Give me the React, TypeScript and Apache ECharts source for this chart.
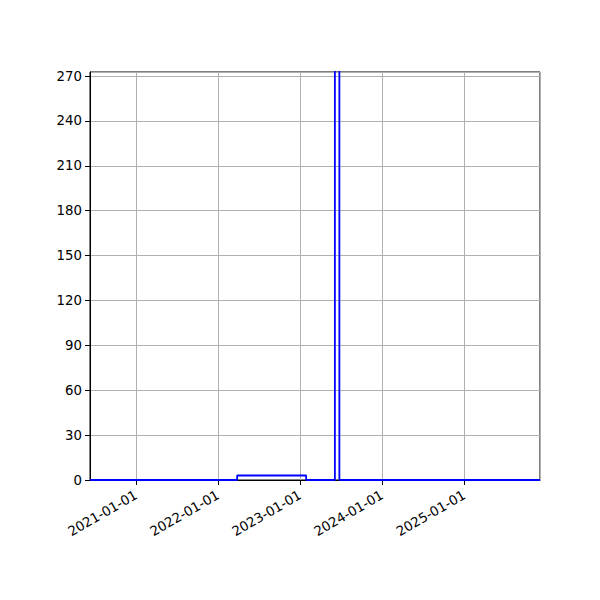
import * as echarts from "echarts";
import { useEffect, useRef } from "react";

// step-post series: each value holds until the next date
const dates = ["2020-06-10", "2022-03-27", "2023-01-28", "2023-06-05", "2023-06-25", "2025-12-04"];
const values = [0, 3, 0, 300, 0, 0];
const xMin = "2020-06-10";
const xMax = "2025-12-04";
const yMax = 272.7;

const YEAR = 365 * 24 * 3600 * 1000;
const FONT = "DejaVu Sans, sans-serif";

function App() {
  const ref = useRef<HTMLDivElement>(null);

  useEffect(() => {
    if (!ref.current) return;
    const chart = echarts.init(ref.current, null, { renderer: "svg" });
    chart.setOption({
      animation: false,
      grid: {
        left: 90,
        right: 60,
        top: 72,
        bottom: 120,
        show: true,
        borderColor: "#000",
        borderWidth: 1,
        backgroundColor: "transparent",
      },
      xAxis: {
        type: "time",
        min: new Date(xMin).getTime(),
        max: new Date(xMax).getTime(),
        minInterval: YEAR,
        maxInterval: YEAR,
        axisLine: { lineStyle: { color: "#000", width: 1 } },
        axisTick: { length: 5, lineStyle: { color: "#000" } },
        axisLabel: {
          rotate: 30,
          color: "#000",
          fontSize: 13.3,
          fontFamily: FONT,
          margin: 14,
          formatter: "{yyyy}-{MM}-{dd}",
          hideOverlap: false,
        },
        splitLine: { show: true, lineStyle: { color: "#b0b0b0", width: 1 } },
      },
      yAxis: {
        type: "value",
        min: 0,
        max: yMax,
        interval: 30,
        axisLine: { show: true, lineStyle: { color: "#000", width: 1 } },
        axisTick: { show: true, length: 5, lineStyle: { color: "#000" } },
        axisLabel: {
          color: "#000",
          fontSize: 13.3,
          fontFamily: FONT,
          margin: 8,
          showMaxLabel: false,
        },
        splitLine: { show: true, lineStyle: { color: "#b0b0b0", width: 1 } },
      },
      series: [
        {
          type: "line",
          step: "end",
          data: dates.map((d, i) => [new Date(d).getTime(), values[i]]),
          symbol: "none",
          clip: true,
          lineStyle: { color: "#0000ff", width: 1.8 },
        },
      ],
    });
    return () => chart.dispose();
  }, []);

  return <div ref={ref} style={{ width: 600, height: 600, margin: -8 }} />;
}

export default App;
